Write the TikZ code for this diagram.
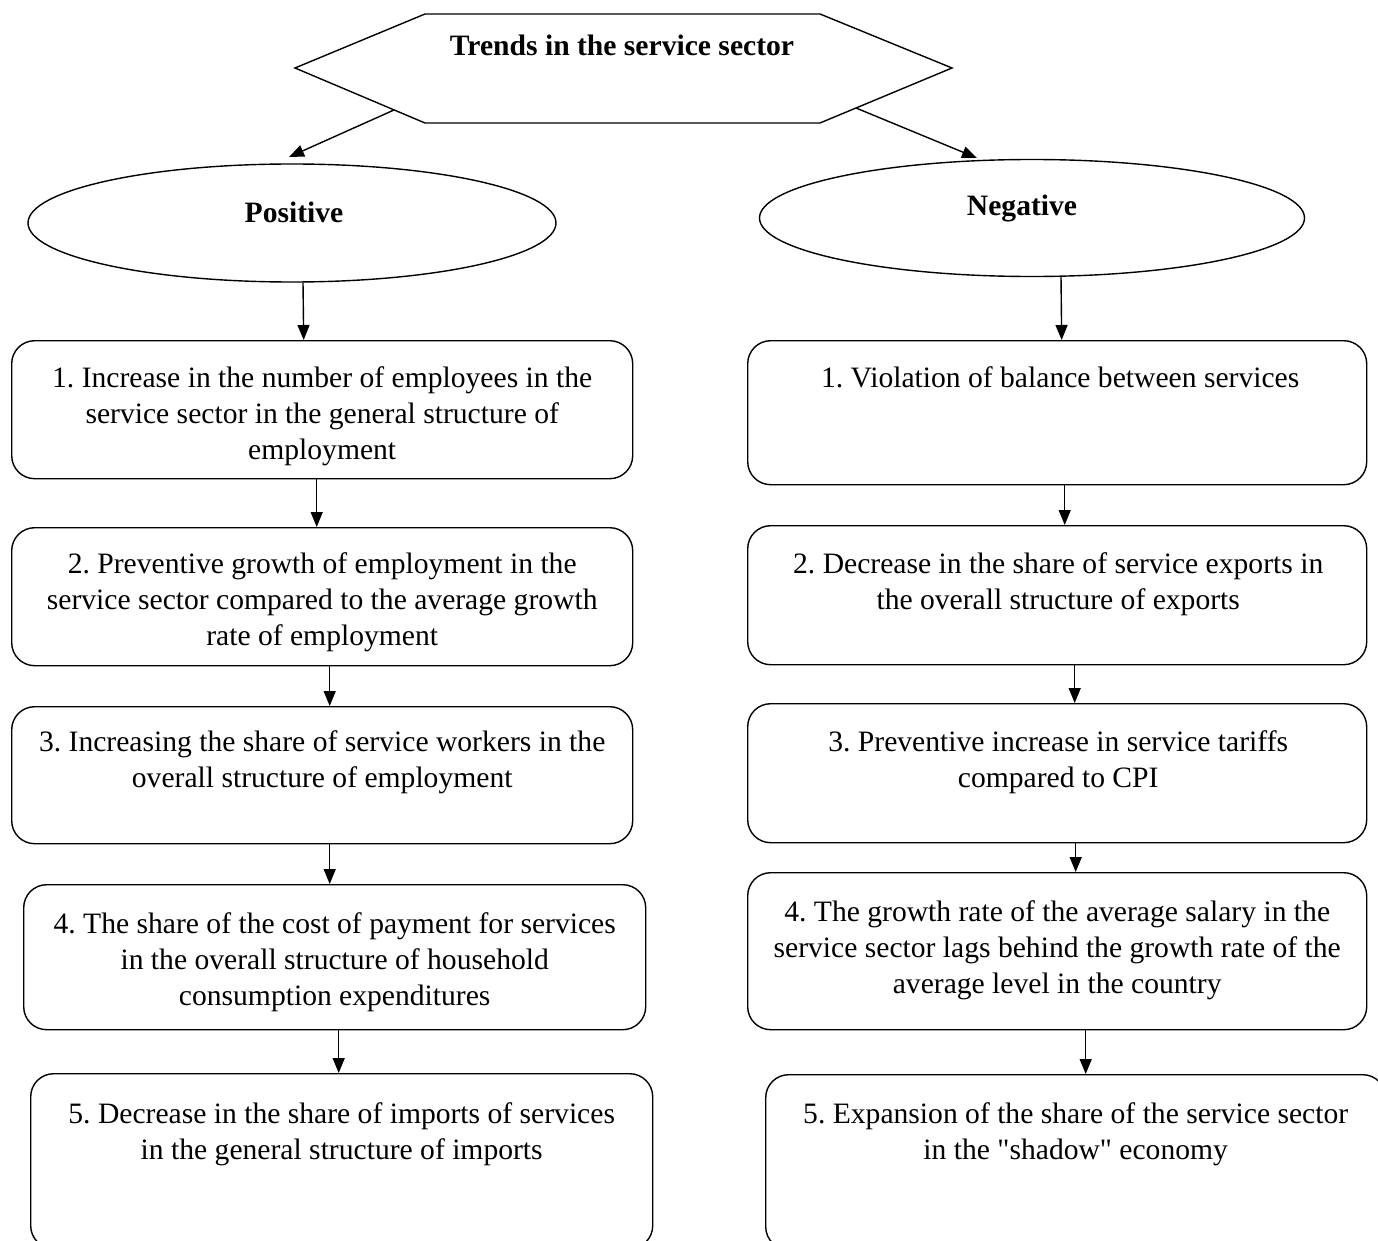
\documentclass[tikz,border=0pt]{standalone}
\usepackage{fontspec}
\setmainfont{Liberation Serif}
\usetikzlibrary{shapes.geometric,arrows.meta,calc}
\frenchspacing
\begin{document}
\begin{tikzpicture}[x=1pt,y=-1pt,
  box/.style={draw, line width=1.4pt, rounded corners=23pt, inner sep=0pt, anchor=north west},
  txt/.style={font=\fontsize{29.6}{36}\selectfont, align=center, inner sep=0pt, anchor=north},
  btxt/.style={font=\fontsize{29.6}{36}\selectfont\bfseries, inner sep=0pt},
  oval/.style={draw, ellipse, line width=1.4pt, inner sep=0pt},
  arr/.style={line width=1.4pt, -{Triangle[length=15pt,width=12pt]}}]
\useasboundingbox (0,0) rectangle (1378,1241);

% top hexagon
\draw[line width=1.4pt] (295,68) -- (425,14) -- (820,14) -- (952,68) -- (820,123) -- (425,123) -- cycle;
\node[btxt] (title) at (622,45) {Trends in the service sector};
\coordinate (hexL) at (394,110);
\coordinate (hexR) at (856,108);
\coordinate (tipL) at (289,157);
\coordinate (tipR) at (977,158);

% ellipses
\node[oval, minimum width=528pt, minimum height=118pt] (Pos) at (292,223) {};
\node[btxt] (PosT) at (294,212) {Positive};
\node[oval, minimum width=545pt, minimum height=117pt] (Neg) at (1032,218) {};
\node[btxt] (NegT) at (1022,208) {Negative};

\draw[arr] (hexL) -- (tipL);
\draw[arr] (hexR) -- (tipR);

% left boxes
\node[box, minimum width=621pt, minimum height=138pt] (L1) at (11,340) {};
\node[box, minimum width=621pt, minimum height=138pt] (L2) at (11,527) {};
\node[box, minimum width=621pt, minimum height=137pt] (L3) at (11,706) {};
\node[box, minimum width=622pt, minimum height=145pt] (L4) at (23,884) {};
\node[box, minimum width=622pt, minimum height=175pt] (L5) at (30,1073) {};

\node[txt] (L1t) at ([yshift=-26pt]L1.north) {1. Increase in the number of employees in the\\service sector in the general structure of\\employment};
\node[txt] (L2t) at ([yshift=-25pt]L2.north) {2. Preventive growth of employment in the\\service sector compared to the average growth\\rate of employment};
\node[txt] (L3t) at ([yshift=-24pt]L3.north) {3. Increasing the share of service workers in the\\overall structure of employment};
\node[txt] (L4t) at ([yshift=-28pt]L4.north) {4. The share of the cost of payment for services\\in the overall structure of household\\consumption expenditures};
\node[txt] (L5t) at ([yshift=-29pt]L5.north) {5. Decrease in the share of imports of services\\in the general structure of imports};

% right boxes
\node[box, minimum width=619pt, minimum height=144pt] (R1) at (747,340) {};
\node[box, minimum width=619pt, minimum height=139pt] (R2) at (747,525) {};
\node[box, minimum width=619pt, minimum height=139pt] (R3) at (747,703) {};
\node[box, minimum width=619pt, minimum height=157pt] (R4) at (747,872) {};
\node[box, minimum width=620pt, minimum height=175pt] (R5) at (765,1074) {};

\node[txt] (R1t) at ([xshift=3pt,yshift=-26pt]R1.north) {1. Violation of balance between services};
\node[txt] (R2t) at ([xshift=1pt,yshift=-27pt]R2.north) {2. Decrease in the share of service exports in\\the overall structure of exports};
\node[txt] (R3t) at ([xshift=1pt,yshift=-27pt]R3.north) {3. Preventive increase in service tariffs\\compared to CPI};
\node[txt] (R4t) at ([yshift=-28pt]R4.north) {4. The growth rate of the average salary in the\\service sector lags behind the growth rate of the\\average level in the country};
\node[txt] (R5t) at ([yshift=-28pt]R5.north) {5. Expansion of the share of the service sector\\in the \textquotedbl shadow\textquotedbl{} economy};

% vertical arrows
\draw[arr] ([xshift=11pt]Pos.south) -- ([xshift=-18.5pt]L1.north);
\draw[arr] ([xshift=-5.5pt]L1.south) -- ([xshift=-5.5pt]L2.north);
\draw[arr] ([xshift=7.5pt]L2.south) -- ([xshift=7.5pt]L3.north);
\draw[arr] ([xshift=7.5pt]L3.south) -- ([xshift=-5pt]L4.north);
\draw[arr] ([xshift=4pt]L4.south) -- ([xshift=-3pt]L5.north);

\draw[arr] ([xshift=29pt]Neg.south) -- ([xshift=4.5pt]R1.north);
\draw[arr] ([xshift=7.5pt]R1.south) -- ([xshift=7.5pt]R2.north);
\draw[arr] ([xshift=17.5pt]R2.south) -- ([xshift=17.5pt]R3.north);
\draw[arr] ([xshift=18.5pt]R3.south) -- ([xshift=18.5pt]R4.north);
\draw[arr] ([xshift=28.5pt]R4.south) -- ([xshift=10pt]R5.north);
\end{tikzpicture}
\end{document}
